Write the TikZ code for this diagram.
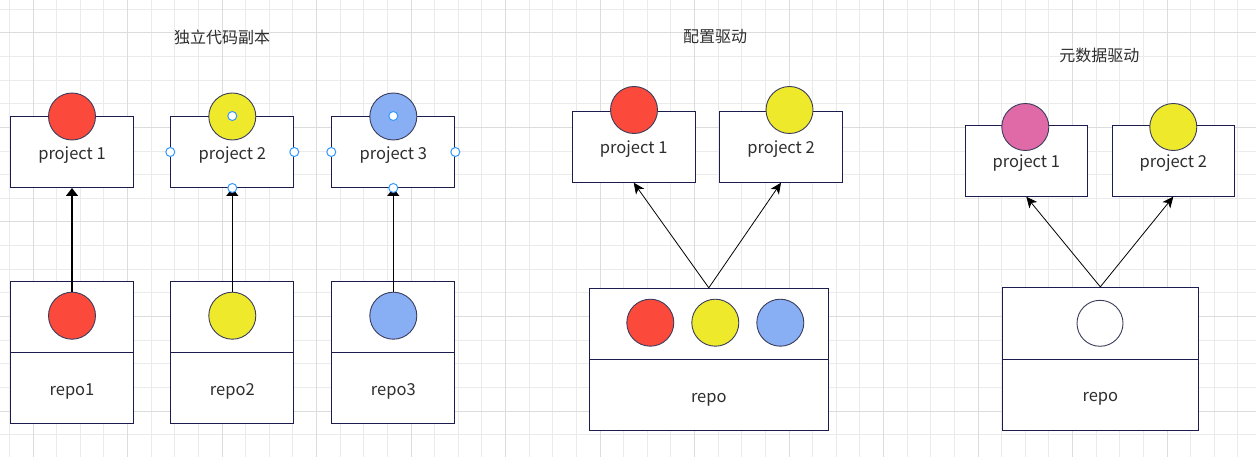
\documentclass[tikz,border=0pt]{standalone}
\usepackage{fontspec}
\setmainfont{Noto Sans CJK SC}
\usetikzlibrary{arrows.meta}
\definecolor{boxline}{HTML}{1A1D4E}
\definecolor{circline}{HTML}{3A3D5C}
\definecolor{cred}{HTML}{FB4A3C}
\definecolor{cyellow}{HTML}{EEE92B}
\definecolor{cblue}{HTML}{88AEF3}
\definecolor{cpink}{HTML}{E06AA8}
\definecolor{gridminor}{HTML}{EBEBEB}
\definecolor{gridmajor}{HTML}{DCDCDC}
\definecolor{txt}{HTML}{2E2E2E}
\definecolor{handle}{HTML}{3399FF}
\begin{document}
\begin{tikzpicture}[x=1pt,y=-1pt,
  box/.style={draw=boxline, line width=1pt, fill=white, rectangle, inner sep=0pt,
    minimum width=123pt, minimum height=71pt, font=\fontsize{16.5}{19}\selectfont, text=txt,
    text height=14.6pt, text depth=0pt},
  dot/.style={draw=circline, line width=0.9pt, circle, minimum size=47pt, inner sep=0pt},
  title/.style={font=\fontsize{16}{19}\selectfont, text=txt, inner sep=0pt},
  arr/.style={-{Triangle[length=8pt,width=12pt]}, line width=1.2pt},
  arrthin/.style={-{Stealth[length=11pt,width=10pt,inset=3pt]}, line width=0.8pt},
  hnd/.style={circle, draw=handle, fill=white, line width=1pt, minimum size=9pt, inner sep=0pt}
]
% background and grid
\fill[white] (0,0) rectangle (1256,457);
\useasboundingbox (0,0) rectangle (1256,457);
\foreach \k in {-1,...,51} \draw[gridminor, line width=1pt] ({33+23.625*\k},0) -- ({33+23.625*\k},457);
\foreach \k in {-1,...,18} \draw[gridminor, line width=1pt] (0,{33+23.625*\k}) -- (1256,{33+23.625*\k});
\foreach \k in {0,4,...,48} \draw[gridmajor, line width=1pt] ({33+23.625*\k},0) -- ({33+23.625*\k},457);
\foreach \k in {0,4,...,16} \draw[gridmajor, line width=1pt] (0,{33+23.625*\k}) -- (1256,{33+23.625*\k});

% ---------- section 1 ----------
\node[title] (t1) at (222,37) {独立代码副本};
\node[box] (p1) at (72,152) {project 1};
\node[box] (p2) at (232.3,152) {project 2};
\node[box] (p3) at (393.3,152) {project 3};
\node[dot, fill=cred] (pc1) at (72,116.5) {};
\node[dot, fill=cyellow] (pc2) at (232.3,116.5) {};
\node[dot, fill=cblue] (pc3) at (393.3,116.5) {};

\node[box] (r1t) at (72,316.8) {};
\node[box] (r1b) at (72,387.8) {repo1};
\node[box] (r2t) at (232.3,316.8) {};
\node[box] (r2b) at (232.3,387.8) {repo2};
\node[box] (r3t) at (393.3,316.8) {};
\node[box] (r3b) at (393.3,387.8) {repo3};
\node[dot, fill=cred] (rc1) at (72,315.7) {};
\node[dot, fill=cyellow] (rc2) at (232.3,315.7) {};
\node[dot, fill=cblue] (rc3) at (393.3,315.7) {};

\draw[arr] (rc1.north) -- (p1.south);
\draw[arr] (rc2.north) -- (p2.south);
\draw[arr] (rc3.north) -- (p3.south);

\node[hnd] (h2w) at (p2.west) {};
\node[hnd] (h2e) at (p2.east) {};
\node[hnd] (h2s) at (p2.south) {};
\node[hnd] (h2n) at (p2.north) {};
\node[hnd] (h3w) at (p3.west) {};
\node[hnd] (h3e) at (p3.east) {};
\node[hnd] (h3s) at (p3.south) {};
\node[hnd] (h3n) at (p3.north) {};

% ---------- section 2 ----------
\node[title] (t2) at (715,37) {配置驱动};
\node[box] (q1) at (633.7,146.7) {project 1};
\node[box] (q2) at (781,146.7) {project 2};
\node[dot, fill=cred] (qc1) at (634,110) {};
\node[dot, fill=cyellow] (qc2) at (789.5,110) {};
\node[box, minimum width=239pt] (qrt) at (708.8,323.8) {};
\node[box, minimum width=239pt, minimum height=70.7pt] (qrb) at (708.8,394.7) {repo};
\node[dot, fill=cred] (qr1) at (650.3,322.7) {};
\node[dot, fill=cyellow] (qr2) at (715.3,322.7) {};
\node[dot, fill=cblue] (qr3) at (780.3,322.7) {};
\draw[arrthin] (qrt.north) -- (q1.south);
\draw[arrthin] (qrt.north) -- (q2.south);

% ---------- section 3 ----------
\node[title] (t3) at (1099.3,55.7) {元数据驱动};
\node[box, minimum width=122pt] (s1) at (1026.3,160.7) {project 1};
\node[box, minimum width=122pt] (s2) at (1173.3,160.7) {project 2};
\node[dot, fill=cpink] (sc1) at (1025.3,127) {};
\node[dot, fill=cyellow] (sc2) at (1173.3,127) {};
\node[box, minimum width=196pt, minimum height=71.7pt] (srt) at (1100.3,323.2) {};
\node[box, minimum width=196pt] (srb) at (1100.3,394.5) {repo};
\node[dot, fill=white, minimum size=46pt] (sr) at (1100,323.3) {};
\draw[arrthin] (srt.north) -- (s1.south);
\draw[arrthin] (srt.north) -- (s2.south);
\end{tikzpicture}
\end{document}
